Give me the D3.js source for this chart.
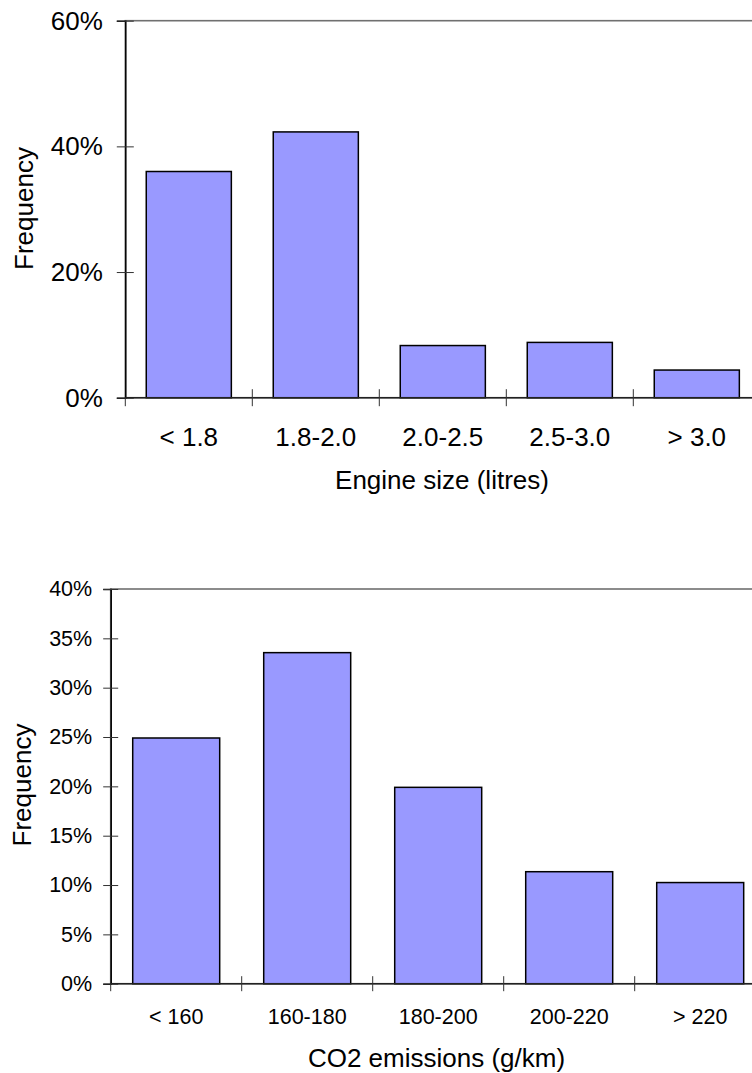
<!DOCTYPE html>
<html>
<head>
<meta charset="utf-8">
<script src="https://cdn.jsdelivr.net/npm/d3@7"></script>
<style>
  html, body { margin: 0; padding: 0; background: #fff; }
  svg { display: block; font-family: "Liberation Sans", Arial, sans-serif; }
</style>
</head>
<body>
<svg id="chart" width="752" height="1073"></svg>
<script>
// ---- data ----
const engineCategories = ["< 1.8", "1.8-2.0", "2.0-2.5", "2.5-3.0", "> 3.0"];
const engineValues = [0.360, 0.423, 0.083, 0.088, 0.044];
const engineTicks = [0, 0.2, 0.4, 0.6];

const co2Categories = ["< 160", "160-180", "180-200", "200-220", "> 220"];
const co2Values = [0.249, 0.3355, 0.199, 0.1135, 0.1025];
const co2Ticks = [0, 0.05, 0.10, 0.15, 0.20, 0.25, 0.30, 0.35, 0.40];

const svg = d3.select("#chart");
const fmt = d3.format(".0%");

function drawChart(cfg) {
  const g = svg.append("g");
  const x = d3.scaleBand().domain(cfg.categories)
    .range([cfg.left, cfg.left + 5 * cfg.step])
    .paddingInner(cfg.pad).paddingOuter(cfg.pad / 2);
  const y = d3.scaleLinear().domain([0, cfg.ymax]).range([cfg.bottom, cfg.top]);

  // plot border (top/right)
  g.append("rect")
    .attr("x", cfg.left).attr("y", y(cfg.ymax))
    .attr("width", x.range()[1] - cfg.left)
    .attr("height", y(0) - y(cfg.ymax))
    .attr("fill", "none").attr("stroke", "#707070").attr("stroke-width", 1.6);

  // bars
  g.selectAll("rect.bar").data(cfg.values).join("rect")
    .attr("class", "bar")
    .attr("x", (d, i) => x(cfg.categories[i]))
    .attr("width", x.bandwidth())
    .attr("y", d => y(d))
    .attr("height", d => y(0) - y(d))
    .attr("fill", "#9999FF").attr("stroke", "#000").attr("stroke-width", 1.5);

  // y axis
  const ya = g.append("g").attr("transform", `translate(${cfg.left},0)`)
    .call(d3.axisLeft(y).tickValues(cfg.ticks).tickFormat(fmt).tickSize(cfg.tick).tickPadding(cfg.ypad));
  ya.select(".domain").attr("stroke", "#000").attr("stroke-width", 1.5);
  ya.selectAll(".tick line").attr("x1", -cfg.tick).attr("x2", cfg.tick).attr("stroke", "#333");
  ya.selectAll(".tick text").attr("font-size", cfg.tickFont).attr("fill", "#000")
    .attr("font-family", "Liberation Sans, Arial, sans-serif");

  // x axis
  const xa = g.append("g").attr("transform", `translate(0,${y(0)})`)
    .call(d3.axisBottom(x).tickSize(0).tickPadding(cfg.xpad));
  xa.select(".domain").remove();
  xa.selectAll(".tick text").attr("font-size", cfg.xTickFont).attr("fill", "#000")
    .attr("font-family", "Liberation Sans, Arial, sans-serif");
  g.append("line")
    .attr("x1", cfg.left).attr("x2", x.range()[1])
    .attr("y1", y(0)).attr("y2", y(0))
    .attr("stroke", "#222").attr("stroke-width", 1.5);
  g.selectAll("line.xtick").data(d3.range(6)).join("line")
    .attr("class", "xtick")
    .attr("x1", i => x.range()[0] + i * x.step())
    .attr("x2", i => x.range()[0] + i * x.step())
    .attr("y1", i => i === 0 ? y(0) : y(0) - cfg.tick)
    .attr("y2", y(0) + cfg.tick)
    .attr("stroke", "#333").attr("stroke-width", 1);

  // titles
  g.append("text")
    .attr("x", cfg.xTitleX).attr("y", cfg.xTitleY)
    .attr("text-anchor", "middle").attr("font-size", cfg.titleFont)
    .text(cfg.xTitle);
  g.append("text")
    .attr("transform", `translate(${cfg.yTitleX},${cfg.yTitleY}) rotate(-90)`)
    .attr("text-anchor", "middle").attr("font-size", cfg.titleFont)
    .text("Frequency");
}

drawChart({
  categories: engineCategories, values: engineValues, ticks: engineTicks,
  left: 125.3, step: 127, pad: 0.33, ymax: 0.6, top: 20.7, bottom: 397.7,
  tick: 8.5, ypad: 14, xpad: 30, tickFont: 26, xTickFont: 26, titleFont: 26,
  xTitle: "Engine size (litres)", xTitleX: 442, xTitleY: 488.5,
  yTitleX: 33, yTitleY: 208.5
});

drawChart({
  categories: co2Categories, values: co2Values, ticks: co2Ticks,
  left: 110.7, step: 131, pad: 0.336, ymax: 0.4, top: 589, bottom: 983.7,
  tick: 7.5, ypad: 11, xpad: 25, tickFont: 21.5, xTickFont: 21.5, titleFont: 26,
  xTitle: "CO2 emissions (g/km)", xTitleX: 436.5, xTitleY: 1066.5,
  yTitleX: 31, yTitleY: 785
});
</script>
</body>
</html>
